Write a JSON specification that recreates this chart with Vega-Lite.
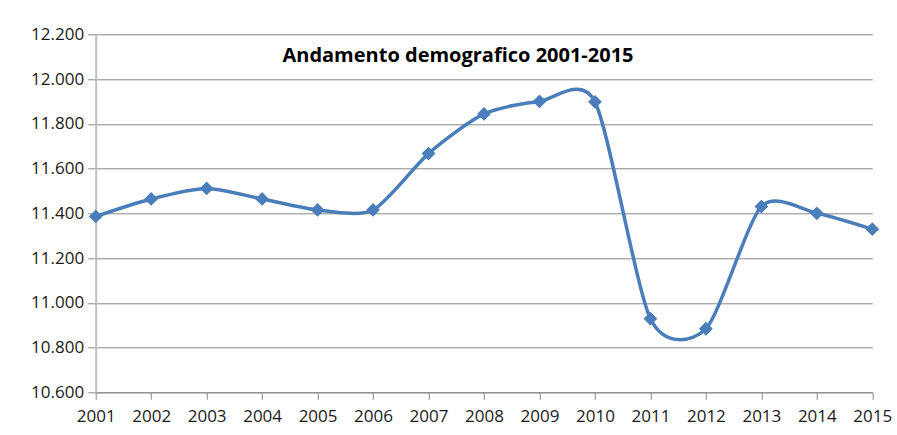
{
  "$schema": "https://vega.github.io/schema/vega-lite/v6.json",
  "autosize": {"type": "none"},
  "width": 776.6,
  "height": 358,
  "padding": {"left": 95.7, "top": 34.3, "right": 24.7, "bottom": 42.7},
  "background": "white",
  "title": {
    "text": "Andamento demografico 2001-2015",
    "font": "Open Sans",
    "fontSize": 20,
    "fontWeight": "bold",
    "color": "#000000",
    "anchor": "middle",
    "baseline": "alphabetic",
    "offset": -57,
    "dx": -26
  },
  "data": {
    "values": [
      {"anno": "2001", "abitanti": 11386},
      {"anno": "2002", "abitanti": 11464},
      {"anno": "2003", "abitanti": 11511},
      {"anno": "2004", "abitanti": 11464},
      {"anno": "2005", "abitanti": 11415},
      {"anno": "2006", "abitanti": 11415},
      {"anno": "2007", "abitanti": 11667},
      {"anno": "2008", "abitanti": 11844},
      {"anno": "2009", "abitanti": 11900},
      {"anno": "2010", "abitanti": 11898},
      {"anno": "2011", "abitanti": 10929},
      {"anno": "2012", "abitanti": 10884},
      {"anno": "2013", "abitanti": 11430},
      {"anno": "2014", "abitanti": 11400},
      {"anno": "2015", "abitanti": 11329}
    ]
  },
  "encoding": {
    "x": {
      "field": "anno",
      "type": "ordinal",
      "scale": {"type": "point", "padding": 0},
      "axis": {
        "title": null,
        "labelAngle": 0,
        "labelFont": "Open Sans",
        "labelFontSize": 17,
        "labelColor": "#1a1a1a",
        "labelPadding": 9,
        "domainColor": "#888888",
        "domainWidth": 1,
        "tickColor": "#888888",
        "tickSize": 7,
        "grid": false
      }
    },
    "y": {
      "field": "abitanti",
      "type": "quantitative",
      "scale": {"domain": [10600, 12200], "nice": false, "zero": false},
      "axis": {
        "title": null,
        "values": [10600, 10800, 11000, 11200, 11400, 11600, 11800, 12000, 12200],
        "labelExpr": "replace(format(datum.value, ',.0f'), ',', '.') + ''",
        "labelFont": "Open Sans",
        "labelFontSize": 17,
        "labelColor": "#1a1a1a",
        "labelPadding": 4,
        "domainColor": "#c0c0c0",
        "domainWidth": 2,
        "tickColor": "#888888",
        "tickSize": 8,
        "grid": true,
        "gridColor": "#888888",
        "gridWidth": 1
      }
    }
  },
  "layer": [
    {
      "mark": {"type": "line", "interpolate": "cardinal", "tension": 0.25, "color": "#4a7ebb", "strokeWidth": 3.5}
    },
    {
      "mark": {"type": "point", "shape": "diamond", "filled": true, "size": 190, "color": "#4a7ebb", "opacity": 1}
    }
  ],
  "config": {"view": {"stroke": null}}
}
